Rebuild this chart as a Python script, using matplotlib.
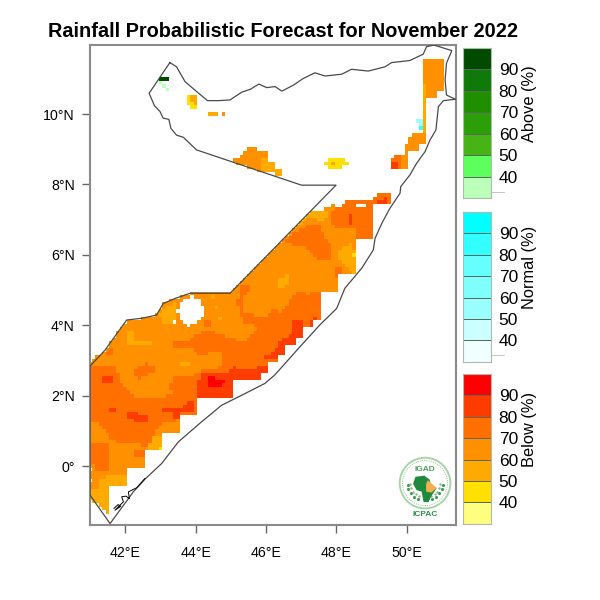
"""Rainfall probabilistic forecast map, November 2022 (Somalia)."""
import matplotlib
matplotlib.use("Agg")
import matplotlib.pyplot as plt
import numpy as np
from matplotlib.colors import BoundaryNorm, ListedColormap
from matplotlib.patches import Circle, Polygon
from matplotlib.path import Path

plt.rcParams["font.family"] = ["Liberation Sans", "DejaVu Sans"]

LON_TICKS = [42, 44, 46, 48, 50]
LAT_TICKS = [0, 2, 4, 6, 8, 10]
LEVELS = [30, 40, 50, 60, 70, 80, 90, 100]
LEVEL_LABELS = [40, 50, 60, 70, 80, 90]

BELOW_COLORS = ["#FFFF80", "#FFE000", "#FFAA00", "#FF9000", "#FF7000", "#FF3C00", "#FF0000"]
NORMAL_COLORS = ["#F0FFFF", "#CCFFFF", "#99FFFF", "#80FFFF", "#66FFFF", "#33FFFF", "#00FFFF"]
ABOVE_COLORS = ["#BBFFBB", "#5CFF5C", "#46B414", "#2C9E0A", "#1F8F00", "#0F7A0A", "#004B00"]

# probability classes: 1-7 below, 8-14 normal, 15-21 above
B40, B50, B60, B70, B80, B90, B100 = range(1, 8)
N60, N90 = 10, 13
A40, A100 = 15, 21

COAST = [
    (43.27, 11.46), (43.46, 11.34), (43.70, 10.92), (43.98, 10.68), (44.34, 10.38), (44.65, 10.38),
    (44.98, 10.40), (45.31, 10.62), (45.55, 10.70), (45.80, 10.85), (46.02, 10.75), (46.26, 10.78),
    (46.45, 10.65), (46.78, 10.82), (47.06, 11.01), (47.39, 11.17), (47.68, 11.08), (48.15, 11.13),
    (48.43, 11.27), (48.91, 11.22), (49.38, 11.34), (49.57, 11.46), (50.09, 11.52), (50.47, 11.70),
    (50.56, 11.91), (50.77, 11.96), (51.28, 11.80), (51.13, 11.44), (51.09, 10.97), (51.13, 10.54),
    (51.25, 10.48), (51.39, 10.42), (51.04, 10.38), (50.90, 10.21), (50.83, 9.55), (50.66, 9.26),
    (50.52, 8.93), (50.28, 8.60), (50.09, 8.27), (49.83, 7.94), (49.81, 7.75), (49.52, 7.32),
    (49.29, 6.89), (49.10, 6.47), (49.05, 6.14), (48.72, 5.62), (48.24, 5.05), (48.01, 4.48),
    (47.53, 4.01), (46.92, 3.34), (46.25, 2.59), (45.97, 2.35), (45.40, 2.06), (44.74, 1.73),
    (44.17, 1.26), (43.51, 0.69), (43.04, 0.08), (42.56, -0.37), (42.23, -0.73), (41.57, -1.63),
    (41.0, -0.82), (41.0, 2.84), (41.43, 3.30), (42.04, 4.15), (42.47, 4.20), (42.89, 4.29),
    (43.08, 4.62), (43.41, 4.76), (43.84, 4.91), (44.98, 4.91), (47.99, 7.98), (47.01, 7.98),
    (44.03, 8.98), (43.65, 9.34), (43.46, 9.40), (43.30, 9.59), (43.24, 9.85), (43.08, 9.88),
    (42.99, 10.07), (42.83, 10.24), (42.68, 10.59),
]
ISLANDS_SOUTH = [
    (41.68, -1.20), (41.80, -1.09), (41.87, -1.14), (41.71, -1.25), (41.95, -1.01), (41.90, -0.87),
    (42.02, -0.85), (42.12, -0.92), (42.09, -0.73), (42.33, -0.61), (42.56, -0.35),
]

DOMAIN = [
    (40.9, -0.82), (40.9, 2.84), (41.43, 3.30), (42.04, 4.15), (42.47, 4.20), (42.89, 4.29),
    (43.08, 4.62), (43.41, 4.76), (43.84, 4.91), (44.98, 4.91), (45.36, 5.28), (47.25, 7.2),
    (47.77, 7.32), (47.91, 7.41), (48.05, 7.32), (48.25, 7.53), (48.95, 7.53), (49.24, 7.73),
    (49.54, 7.73), (49.54, 7.46), (49.05, 7.46), (49.05, 6.44), (48.55, 6.44), (48.55, 5.45),
    (48.05, 5.45), (48.05, 4.95), (47.55, 4.95), (47.55, 4.15), (47.34, 4.15), (47.34, 3.96),
    (47.04, 3.96), (47.04, 3.66), (46.84, 3.66), (46.84, 3.44), (46.54, 3.44), (46.54, 3.15),
    (46.35, 3.15), (46.35, 2.93), (46.04, 2.93), (46.04, 2.65), (45.85, 2.65), (45.85, 2.44),
    (45.04, 2.44), (45.04, 1.94), (44.06, 1.94), (44.06, 1.43), (43.56, 1.43), (43.56, 0.93),
    (43.05, 0.93), (43.05, 0.44), (42.56, 0.44), (42.56, -0.07), (42.06, -0.07), (42.06, -0.54),
    (41.57, -0.54), (41.57, -1.44),
]
HORN_NORTH = [(50.45, 11.51), (51.06, 11.51), (51.06, 10.63), (50.83, 10.63), (50.83, 10.42),
              (50.55, 10.42), (50.55, 10.83), (50.45, 10.83)]
HORN_STRIP = [(50.45, 10.83), (50.55, 10.83), (50.55, 9.43), (50.45, 9.43)]
HORN_SOUTH = [(50.04, 9.31), (50.19, 9.43), (50.55, 9.43), (50.55, 9.14), (50.33, 9.14), (50.33, 8.95),
              (50.04, 8.95), (50.04, 8.43), (49.54, 8.43), (49.54, 8.62), (49.64, 8.81), (49.84, 8.81),
              (49.95, 8.95), (49.95, 9.12), (50.04, 9.12)]
NORTH_PATCH = [(45.04, 8.71), (45.26, 8.71), (45.26, 8.83), (45.36, 8.83), (45.36, 8.93), (45.45, 9.02),
               (45.73, 9.02), (45.73, 8.93), (46.05, 8.93), (46.05, 8.74), (45.88, 8.74), (45.88, 8.36),
               (45.59, 8.46), (45.17, 8.60)]
NORTH_PATCH_EAST = [(45.88, 8.74), (46.05, 8.74), (46.05, 8.65), (46.25, 8.65), (46.25, 8.5),
                    (46.45, 8.4), (46.52, 8.2), (46.3, 8.3), (45.88, 8.36)]
YELLOW_CENTRE = [(47.65, 8.62), (47.77, 8.62), (47.77, 8.71), (48.24, 8.71), (48.24, 8.62), (48.34, 8.62),
                 (48.34, 8.52), (48.15, 8.52), (48.15, 8.43), (47.77, 8.43), (47.77, 8.52), (47.65, 8.52)]
YELLOW_WEST = [(43.77, 10.51), (44.03, 10.51), (44.03, 10.16), (43.87, 10.16), (43.87, 10.25), (43.77, 10.25)]
SPECK_A = [(44.36, 10.02), (44.65, 10.02), (44.65, 9.92), (44.36, 9.92)]
SPECK_B = [(44.76, 10.02), (44.85, 10.02), (44.85, 9.92), (44.76, 9.92)]
CYAN_LIGHT = [(50.23, 9.83), (50.45, 9.83), (50.45, 9.65), (50.36, 9.65), (50.36, 9.73), (50.23, 9.73)]
CYAN_DARK = [(50.36, 9.65), (50.45, 9.65), (50.45, 9.52), (50.36, 9.52)]
GREEN_DARK = [(42.96, 11.01), (43.24, 11.01), (43.24, 10.94), (42.96, 10.94)]
GREEN_A = [(42.96, 10.92), (43.05, 10.92), (43.05, 10.84), (42.96, 10.84)]
GREEN_B = [(43.05, 10.82), (43.15, 10.82), (43.15, 10.73), (43.05, 10.73)]
GREEN_C = [(43.16, 10.71), (43.24, 10.71), (43.24, 10.63), (43.16, 10.63)]

BASE_AREAS = [
    (B70, DOMAIN), (B70, HORN_NORTH), (B60, HORN_STRIP), (B70, HORN_SOUTH), (B70, NORTH_PATCH),
    (B60, NORTH_PATCH_EAST), (B50, YELLOW_CENTRE), (B50, YELLOW_WEST), (B60, SPECK_A), (B70, SPECK_B),
    (N60, CYAN_LIGHT), (N90, CYAN_DARK), (A100, GREEN_DARK), (A40, GREEN_A), (A40, GREEN_B),
    (A40, GREEN_C),
]

DARK_WEST = [(40.9, 2.87), (41.24, 2.87), (41.76, 2.84), (41.83, 2.44), (42.04, 2.25), (42.28, 1.95),
             (42.85, 1.97), (43.32, 2.02), (43.27, 2.30), (43.37, 2.52), (43.84, 2.59), (44.13, 2.63),
             (45.1, 2.63), (45.1, 1.9), (44.06, 1.9), (44.06, 1.43), (43.6, 1.43), (43.56, 1.31),
             (43.04, 1.26), (42.85, 0.93), (42.8, 0.5), (42.28, 0.64), (41.95, 0.64), (41.57, 0.79),
             (41.52, 0.97), (41.24, 1.21), (40.9, 1.21)]
DARK_SOUTH = [(40.9, 0.64), (41.47, 0.64), (41.57, 0.55), (41.52, -0.16), (41.24, -0.16), (41.09, 0.03), (40.9, 0.03)]
DARK_SMALL = [(42.28, 0.41), (42.56, 0.41), (42.56, 0.27), (42.28, 0.22)]
DARK_OVAL = [(42.28, 2.73), (42.56, 2.94), (42.85, 2.78), (42.8, 2.63), (42.52, 2.56), (42.37, 2.44), (42.28, 2.52)]
DARK_BORDER = [(41.43, 3.2), (41.66, 3.44), (41.66, 3.2)]
DARK_SPECK = [(44.27, 4.1), (44.46, 4.1), (44.46, 4.03), (44.27, 4.03)]
DARK_BAND = [(43.37, 3.53), (43.84, 3.58), (44.13, 3.82), (44.46, 3.82), (44.74, 3.7), (44.74, 3.15),
             (44.13, 3.15), (43.84, 3.39), (43.37, 3.39)]
DARK_EAST = [(44.13, 3.72), (44.46, 3.82), (45.36, 3.53), (45.83, 3.96), (46.40, 4.38), (46.97, 5.0),
             (47.2, 4.89), (47.6, 4.95), (47.6, 3.9), (46.0, 2.4), (44.13, 2.4)]
DARK_STRIP = [(45.31, 5.14), (45.69, 5.21), (45.4, 4.86), (45.4, 4.34), (45.92, 4.24), (46.26, 4.48),
              (46.4, 4.38), (45.92, 3.96), (45.36, 4.05), (45.17, 4.62)]
DARK_TICK = [(44.24, 4.15), (44.46, 4.15), (44.46, 4.0), (44.24, 4.0)]
DARK_NORTH = [(46.59, 6.42), (46.87, 6.66), (47.25, 6.89), (47.49, 6.89), (47.68, 6.52), (47.87, 6.28),
              (47.87, 5.8), (47.53, 5.85), (47.2, 6.18), (46.92, 6.28), (46.59, 6.33)]
DARK_NE = [(47.85, 7.27), (48.05, 7.32), (48.24, 7.55), (48.95, 7.55), (49.24, 7.75), (49.6, 7.75),
           (49.6, 7.40), (49.1, 7.40), (49.1, 6.40), (48.53, 6.40), (48.53, 6.7), (47.96, 6.72), (47.85, 6.89)]
DARK_NOTCH = [(48.0, 5.62), (48.13, 5.62), (48.13, 5.40), (48.0, 5.40)]
DARK_HORN = [(49.64, 8.81), (49.84, 8.81), (49.84, 8.40), (49.5, 8.40), (49.5, 8.62)]

BASE_LOBE = [(44.13, 3.06), (44.46, 3.25), (44.74, 3.2), (44.74, 2.85), (44.46, 2.72), (44.13, 2.7)]

LIGHT_BORDER = [(42.99, 4.34), (43.27, 4.57), (43.5, 4.72), (43.44, 4.15), (43.37, 4.05), (43.04, 4.05)]
LIGHT_ARM = [(42.04, 3.82), (42.23, 3.82), (42.28, 3.58), (42.75, 3.58), (42.75, 3.5), (42.23, 3.5), (42.09, 3.44)]
LIGHT_TIP = [(41.24, -0.35), (41.57, -0.26), (42.1, -0.26), (42.1, -0.6), (41.6, -0.6), (41.6, -1.5),
             (40.9, -0.9), (40.9, -0.68), (41.24, -0.68)]
LIGHT_STEP = [(42.85, 0.9), (43.1, 0.9), (43.1, 0.4), (42.7, 0.4), (42.7, 0.6)]
LIGHT_BAR = [(43.56, 2.92), (43.84, 2.92), (43.84, 2.84), (43.56, 2.84)]
LIGHT_COAST = [(48.05, 6.14), (48.24, 6.28), (48.48, 6.33), (48.6, 5.42), (48.34, 5.58), (48.15, 5.8), (48.05, 5.95)]
LIGHT_SPOT = [(46.35, 5.33), (46.63, 5.43), (46.66, 5.19), (46.54, 5.02), (46.35, 5.02)]
LIGHT_TOP = [(46.82, 6.85), (47.2, 7.18), (47.74, 7.3), (47.74, 7.08), (47.58, 6.94), (47.39, 7.04), (47.15, 7.0), (46.87, 6.8)]
LIGHT_WEST_INNER = [(43.87, 10.55), (44.05, 10.55), (44.05, 10.24), (43.94, 10.24), (43.94, 10.32), (43.87, 10.32)]
LIGHT_CENTRE_SPOT = [(47.85, 8.62), (47.95, 8.62), (47.95, 8.52), (47.85, 8.52)]
LIGHT_DOT_A = [(44.5, 4.9), (44.6, 4.9), (44.6, 4.8), (44.5, 4.8)]
LIGHT_DOT_B = [(44.55, 4.55), (44.65, 4.55), (44.65, 4.45), (44.55, 4.45)]
LIGHT_DOT_C = [(44.65, 4.25), (44.75, 4.25), (44.75, 4.15), (44.65, 4.15)]
YELLOW_DOT_A = [(42.94, 0.6), (43.06, 0.6), (43.06, 0.45), (42.94, 0.45)]
YELLOW_DOT_B = [(48.45, 6.03), (48.55, 6.03), (48.55, 5.95), (48.45, 5.95)]

RED_BLOCK = [(44.03, 2.35), (44.22, 2.63), (45.1, 2.63), (45.1, 1.9), (44.06, 1.9)]
RED_STRIP = [(45.07, 2.82), (45.64, 2.73), (46.07, 2.92), (46.1, 2.6), (45.83, 2.6), (45.83, 2.4), (45.0, 2.4), (45.0, 2.7)]
RED_MID = [(43.05, 1.64), (43.56, 1.64), (43.75, 1.83), (43.96, 1.83), (43.96, 1.54), (43.56, 1.52),
           (43.56, 1.32), (43.34, 1.32), (43.34, 1.52), (43.05, 1.54)]
RED_LOW = [(42.04, 1.50), (42.23, 1.54), (42.66, 1.42), (42.66, 1.23), (42.47, 1.23), (42.04, 1.38)]
RED_A = [(41.33, 2.52), (41.66, 2.52), (41.66, 2.35), (41.33, 2.35)]
RED_B = [(41.54, 1.64), (41.76, 1.64), (41.76, 1.54), (41.54, 1.54)]
RED_COAST = [(45.95, 3.09), (46.26, 3.3), (46.45, 3.63), (46.73, 3.72), (46.78, 4.1), (47.1, 4.13),
             (47.1, 3.6), (46.84, 3.6), (46.84, 3.4), (46.54, 3.4), (46.54, 3.1), (46.35, 3.1), (46.35, 3.03)]
RED_C = [(47.25, 4.13), (47.34, 4.13), (47.34, 4.0), (47.25, 4.0)]
RED_D = [(47.34, 4.24), (47.48, 4.24), (47.48, 4.15), (47.34, 4.15)]
RED_E = [(48.24, 6.90), (48.33, 6.90), (48.33, 7.13), (48.45, 7.13), (48.45, 6.83), (48.24, 6.83)]
RED_F = [(49.19, 7.51), (49.45, 7.63), (49.45, 7.46), (49.19, 7.46)]
RED_HORN = [(49.5, 8.62), (49.76, 8.62), (49.76, 8.40), (49.5, 8.40)]
PEAK = [(44.36, 2.49), (44.5, 2.54), (44.84, 2.4), (44.65, 2.2), (44.5, 2.3), (44.36, 2.3)]

OVERLAYS = [
    (B80, DARK_WEST), (B80, DARK_SOUTH), (B80, DARK_SMALL), (B80, DARK_OVAL), (B80, DARK_BAND),
    (B80, DARK_EAST), (B80, DARK_STRIP), (B80, DARK_NORTH), (B80, DARK_NE), (B80, DARK_NOTCH),
    (B80, DARK_HORN), (B80, DARK_BORDER), (B80, DARK_SPECK), (B80, DARK_TICK),
    (B70, BASE_LOBE),
    (B60, LIGHT_BORDER), (B60, LIGHT_ARM), (B60, LIGHT_TIP), (B60, LIGHT_STEP), (B60, LIGHT_BAR),
    (B60, LIGHT_COAST), (B60, LIGHT_SPOT), (B60, LIGHT_TOP), (B60, LIGHT_WEST_INNER), (B60, LIGHT_CENTRE_SPOT),
    (B60, LIGHT_DOT_A), (B60, LIGHT_DOT_B), (B60, LIGHT_DOT_C),
    (B50, YELLOW_DOT_A), (B50, YELLOW_DOT_B),
    (B90, RED_BLOCK), (B90, RED_STRIP), (B90, RED_MID), (B90, RED_LOW), (B90, RED_A), (B90, RED_B),
    (B90, RED_COAST), (B90, RED_C), (B90, RED_D), (B90, RED_E), (B90, RED_F), (B90, RED_HORN), (B100, PEAK),
]

HOLE_ROUND = [(43.46, 4.38), (43.60, 4.67), (43.89, 4.83), (44.17, 4.67), (44.25, 4.38), (44.08, 4.10),
              (43.79, 3.96), (43.56, 4.20)]
HOLE_SMALL = [(43.35, 4.12), (43.45, 4.12), (43.45, 4.03), (43.35, 4.03)]
HOLE_NOTCH = [(48.56, 7.43), (48.86, 7.43), (48.86, 7.33), (48.56, 7.33)]
HOLE_WEST_A = [(40.9, -0.05), (41.04, -0.05), (41.04, -0.15), (40.9, -0.15)]
HOLE_WEST_B = [(40.9, -0.35), (41.04, -0.35), (41.04, -0.45), (40.9, -0.45)]
HOLES = [HOLE_ROUND, HOLE_SMALL, HOLE_NOTCH, HOLE_WEST_A, HOLE_WEST_B]

AFRICA = [(50.18, -0.5), (50.25, -0.3), (50.5, -0.27), (50.65, -0.38), (50.68, -0.5), (50.85, -0.62),
          (50.7, -0.85), (50.62, -1.02), (50.48, -1.02), (50.42, -0.72), (50.28, -0.68)]
HORN_LOGO = [(50.6, -0.4), (50.85, -0.62), (50.7, -0.75), (50.55, -0.72), (50.55, -0.5)]
WREATH_ANGLES = [185, 200, 215, 230, 245, 295, 310, 325, 340, 355]


def inside(lon_c, lat_c, polygon):
    pts = np.column_stack([lon_c.ravel(), lat_c.ravel()])
    return Path(polygon).contains_points(pts).reshape(lon_c.shape)


def build_field():
    lon_edges = np.arange(40.95, 51.5, 0.1)
    lat_edges = np.arange(-1.75, 12.0, 0.1)
    lon_c, lat_c = np.meshgrid(lon_edges[:-1] + 0.05, lat_edges[:-1] + 0.05)
    grid = np.zeros(lon_c.shape, dtype=int)
    for code, poly in BASE_AREAS:
        grid[inside(lon_c, lat_c, poly)] = code
    for code, poly in OVERLAYS:
        grid[inside(lon_c, lat_c, poly) & (grid > 0)] = code
    for poly in HOLES:
        grid[inside(lon_c, lat_c, poly)] = 0
    return lon_edges, lat_edges, np.ma.masked_equal(grid, 0)


def draw_logo(ax):
    lon0, lat0 = 50.52, -0.48
    ax.add_patch(Circle((lon0, lat0), 0.72, fc="white", ec="#A8D4A8", lw=1.4, zorder=5))
    ax.add_patch(Circle((lon0, lat0), 0.64, fc="none", ec="#6DB37A", lw=0.6, ls=":", zorder=5))
    ang = np.radians(WREATH_ANGLES)
    ax.scatter(lon0 + 0.50 * np.cos(ang), lat0 + 0.50 * np.sin(ang), s=5, color="#3F9B4F", lw=0, zorder=6)
    ax.scatter(lon0 + 0.42 * np.cos(ang), lat0 + 0.42 * np.sin(ang), s=3, color="#7DBB85", lw=0, zorder=6)
    ax.add_patch(Polygon(AFRICA, fc="#1F8A3B", ec="none", zorder=6))
    ax.add_patch(Polygon(HORN_LOGO, fc="#F0B050", ec="none", zorder=7))
    ax.text(lon0, lat0 + 0.38, "IGAD", fontsize=6, fontweight="bold", color="#4E9E5E",
            ha="center", va="center", zorder=8)
    ax.text(lon0, lat0 - 0.90, "ICPAC", fontsize=6, fontweight="bold", color="#2C8C48",
            ha="center", va="center", zorder=8)


def draw_colorbar(fig, rect, colors, label, label_y, stub):
    cax = fig.add_axes(rect)
    vals = np.array(LEVELS, dtype=float)
    cax.pcolormesh([0, 1], vals, np.arange(7).reshape(-1, 1), cmap=ListedColormap(colors),
                   vmin=-0.5, vmax=6.5, edgecolors="#5A6A5A", linewidth=0.5)
    cax.set_xlim(0, 1)
    cax.set_ylim(30, 100)
    cax.set_xticks([])
    cax.yaxis.tick_right()
    cax.set_yticks(LEVEL_LABELS)
    cax.tick_params(axis="y", length=0, pad=5.5, labelsize=12.5)
    for sp in cax.spines.values():
        sp.set_color("#B0B8B0")
        sp.set_linewidth(0.8)
    if stub is not None:
        cax.plot([1, 1.45], [stub, stub], color="#BBBBBB", lw=0.6, clip_on=False)
    cax.text(2.33, label_y, label, rotation=90, fontsize=11.8, ha="center", va="center",
             transform=cax.transAxes)


def main():
    lon_edges, lat_edges, field = build_field()
    colors = BELOW_COLORS + NORMAL_COLORS + ABOVE_COLORS
    cmap = ListedColormap(colors)
    norm = BoundaryNorm(np.arange(0.5, 22.5), cmap.N)

    fig = plt.figure(figsize=(6, 6), dpi=100)
    ax = fig.add_axes([0.15, 0.125, 0.61, 0.8])
    ax.pcolormesh(lon_edges, lat_edges, field, cmap=cmap, norm=norm, zorder=1)
    ax.plot(*zip(*(COAST + COAST[:1])), color="#4A4A4A", lw=0.9, zorder=3)
    ax.plot(*zip(*ISLANDS_SOUTH), color="black", lw=0.7, zorder=3)
    ax.set_xlim(41, 51.4)
    ax.set_ylim(-1.67, 11.96)

    ax.set_xticks(LON_TICKS)
    ax.set_xticklabels([f"{v}°E" for v in LON_TICKS])
    ax.set_yticks(LAT_TICKS)
    ax.set_yticklabels(["0°" if v == 0 else f"{v}°N" for v in LAT_TICKS])
    ax.tick_params(axis="x", length=6, width=1, color="#666666", pad=9, labelsize=10.2)
    ax.tick_params(axis="y", length=6, width=1, color="#666666", pad=5, labelsize=10.2)
    for sp in ax.spines.values():
        sp.set_color("#8A8A8A")
        sp.set_linewidth(1.5)

    draw_logo(ax)

    bar_x, bar_w, bar_h = 0.771, 0.0475, 0.25
    draw_colorbar(fig, [bar_x, 0.670, bar_w, bar_h], ABOVE_COLORS, "Above (%)", 0.63, 33)
    draw_colorbar(fig, [bar_x, 0.397, bar_w, bar_h], NORMAL_COLORS, "Normal (%)", 0.63, 33)
    draw_colorbar(fig, [bar_x, 0.127, bar_w, bar_h], BELOW_COLORS, "Below (%)", 0.63, None)

    fig.text(0.471, 0.948, "Rainfall Probabilistic Forecast for November 2022", fontsize=14.3,
             fontweight="bold", ha="center", va="center")

    fig.savefig("out.png", dpi=100)
    plt.close(fig)


if __name__ == "__main__":
    main()
